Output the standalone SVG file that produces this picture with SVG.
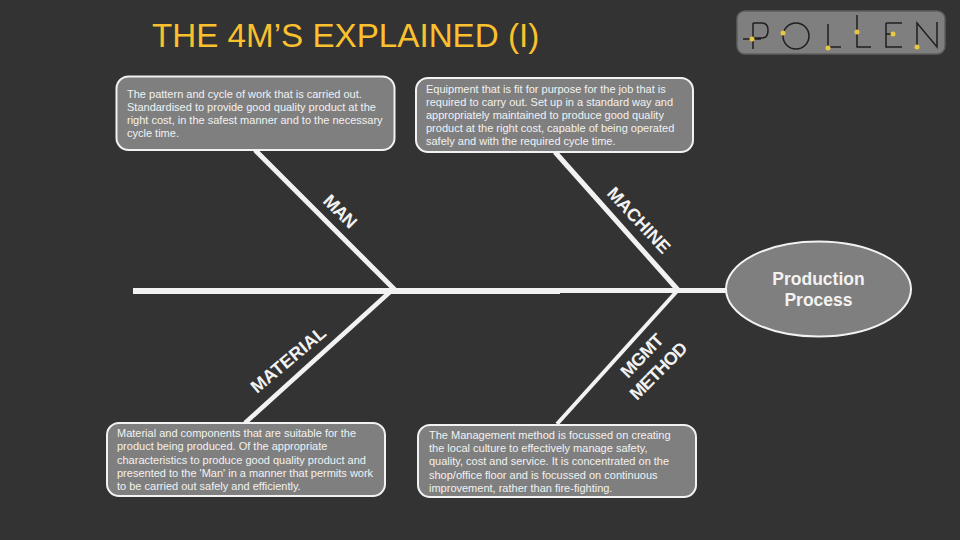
<svg xmlns="http://www.w3.org/2000/svg" width="960" height="540" viewBox="0 0 960 540">
<defs>
<style>
.box{fill:#7f7f7f;stroke:#f2f2f2;stroke-width:2}
.t{font-family:"Liberation Sans",Arial,sans-serif;font-size:11px;fill:#f2f2f2}
.lab{font-family:"Liberation Sans",Arial,sans-serif;font-size:18px;font-weight:bold;fill:#f2f2f2}
.bone{stroke:#f2f2f2;fill:none;stroke-width:5}
.lg{stroke:#1f1f1f;stroke-width:1.5;fill:none}
.dot{fill:#e8c840}
</style>
</defs>
<rect width="960" height="540" fill="#333333"/>
<text x="152" y="46.500" font-family="'Liberation Sans',Arial,sans-serif" font-size="33.200" fill="#fbc02d">THE 4M’S EXPLAINED (I)</text>
<g id="logo">
<rect x="737" y="11" width="208" height="43" rx="8" fill="#7f7f7f" stroke="#5f5f5f" stroke-width="1.500"/>
<path class="lg" d="M743 39H761M753 23V49M753 23H762Q768 23 768 30.500Q768 38 762 38H753"/>
<circle class="lg" cx="796" cy="36" r="13"/>
<path class="lg" d="M828 24V47H841M857 15V47H871M886 23H902M886 23V47H902M886 34H895M917 47V23L937 47V22"/>
<circle class="dot" cx="752" cy="39" r="2.500"/><circle class="dot" cx="783" cy="33" r="2.500"/><circle class="dot" cx="828" cy="48" r="2.500"/><circle class="dot" cx="857" cy="32" r="2.500"/><circle class="dot" cx="893" cy="34" r="2.500"/><circle class="dot" cx="917" cy="47" r="2.500"/>
</g>
<g id="connectors">
<path class="bone" style="stroke-width:6" d="M133 291H560"/>
<path class="bone" d="M560 290.500H726"/>
<path class="bone" d="M255 150L395 290"/>
<path class="bone" style="stroke-width:4.500" d="M391 291L245 423"/>
<path class="bone" d="M555 152L678 290"/>
<path class="bone" style="stroke-width:4" d="M678 290L557 424"/>
</g>
<g id="man-label"><text class="lab" transform="translate(322 202) rotate(45)" textLength="39">MAN</text></g>
<g id="machine-label"><text class="lab" transform="translate(606 194) rotate(47)" textLength="83">MACHINE</text></g>
<g id="material-label"><text class="lab" transform="translate(257 394) rotate(-40)" textLength="92">MATERIAL</text></g>
<g id="mgmt-label"><text class="lab" transform="translate(628 379) rotate(-46)" textLength="53">MGMT</text><text class="lab" transform="translate(637 401) rotate(-45)" textLength="73">METHOD</text></g>
<g id="man-box"><rect class="box" x="116.500" y="76.500" width="278" height="73.500" rx="12"/>
<text class="t"><tspan x="127" y="98">The pattern and cycle of work that is carried out.</tspan><tspan x="127" y="111">Standardised to provide good quality product at the</tspan><tspan x="127" y="124">right cost, in the safest manner and to the necessary</tspan><tspan x="127" y="137">cycle time.</tspan></text></g>
<g id="machine-box"><rect class="box" x="416" y="78" width="277" height="74" rx="12"/>
<text class="t"><tspan x="426" y="93">Equipment that is fit for purpose for the job that is</tspan><tspan x="426" y="106">required to carry out.  Set up in a standard way and</tspan><tspan x="426" y="119">appropriately maintained to produce good quality</tspan><tspan x="426" y="132">product at the right cost, capable of being operated</tspan><tspan x="426" y="145">safely and with the required cycle time.</tspan></text></g>
<g id="material-box"><rect class="box" x="107" y="423" width="278" height="73" rx="12"/>
<text class="t"><tspan x="117" y="437">Material and components that are suitable for the</tspan><tspan x="117" y="450">product being produced.  Of the appropriate</tspan><tspan x="117" y="464">characteristics to produce good quality product and</tspan><tspan x="117" y="477">presented to the 'Man' in a manner that permits work</tspan><tspan x="117" y="490">to be carried out safely and efficiently.</tspan></text></g>
<g id="mgmt-box"><rect class="box" x="418" y="425" width="278" height="72" rx="12"/>
<text class="t"><tspan x="429" y="439">The Management method is focussed on creating</tspan><tspan x="429" y="452">the local culture to effectively manage safety,</tspan><tspan x="429" y="465">quality, cost and service.  It is concentrated on the</tspan><tspan x="429" y="479">shop/office floor and is focussed on continuous</tspan><tspan x="429" y="492">improvement, rather than fire-fighting.</tspan></text></g>
<g id="process"><ellipse class="box" cx="818.500" cy="289" rx="92.500" ry="47.500"/>
<text font-family="'Liberation Sans',Arial,sans-serif" font-size="17.500" font-weight="bold" fill="#f2f2f2" text-anchor="middle"><tspan x="818.500" y="285">Production</tspan><tspan x="818.500" y="306">Process</tspan></text></g>
</svg>
